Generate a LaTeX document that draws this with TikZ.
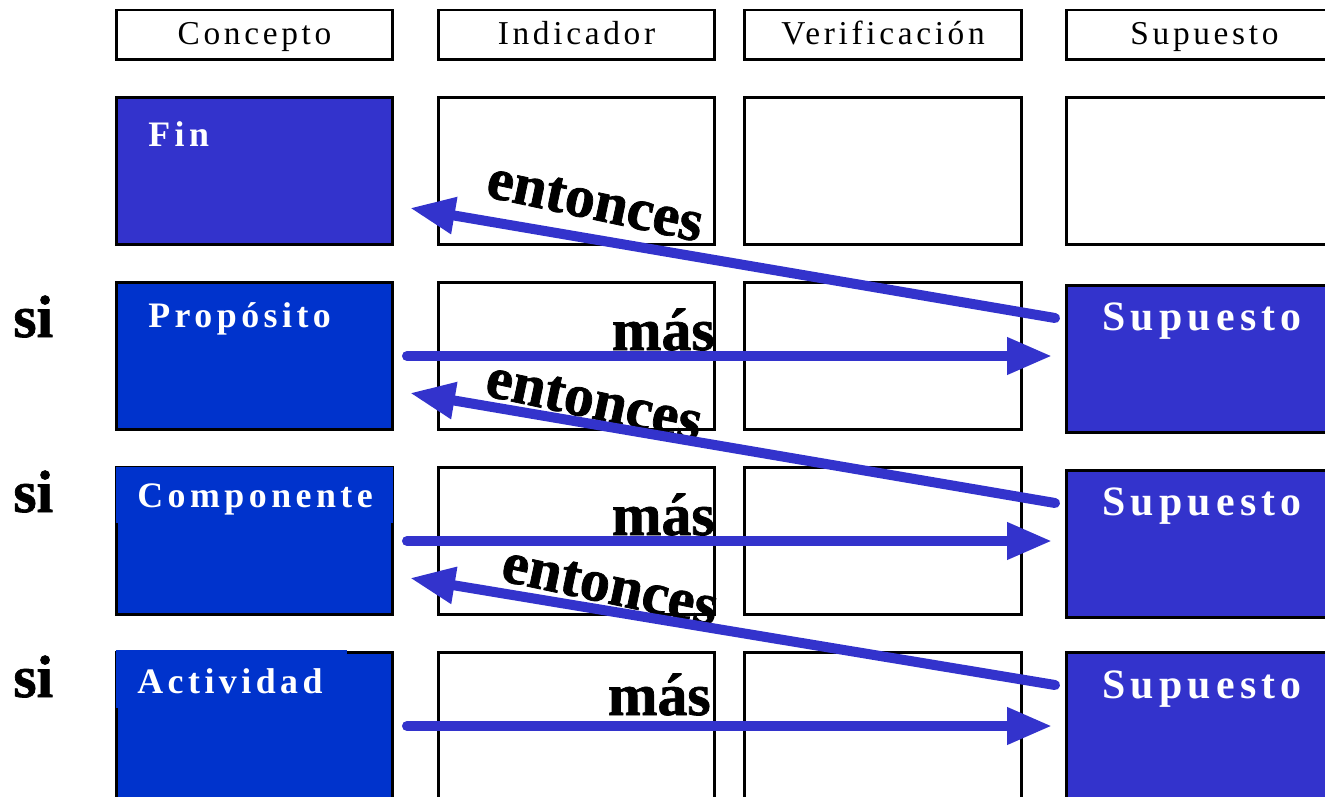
\documentclass[tikz,border=0pt]{standalone}
\usepackage{fontspec}
\setmainfont{Liberation Serif}[BoldFont={Liberation Serif Bold}]
\newfontfamily\hdrfont[LetterSpace=11]{Liberation Serif}
\newfontfamily\lblfont[LetterSpace=12.5]{Liberation Serif Bold}
\newfontfamily\bigfont[FakeBold=1.2]{Liberation Serif Bold}
\usetikzlibrary{arrows.meta,positioning}
\definecolor{finblue}{HTML}{3333CC}
\definecolor{conblue}{HTML}{0033CC}

\tikzset{
  cell/.style={draw, line width=1.7pt, minimum width=5.54cm, minimum height=2.96cm,
    inner sep=0pt, outer sep=0pt},
  head/.style={draw, line width=1.7pt, minimum width=5.54cm, minimum height=1cm,
    inner sep=0pt, outer sep=0pt, text height=14pt, text depth=3pt,
    font=\hdrfont\fontsize{19}{22}\selectfont},
  lbl/.style={text=white, anchor=north west, inner sep=0pt,
    font=\lblfont\fontsize{20.4}{24}\selectfont},
  suplbl/.style={lbl, font=\lblfont\fontsize{23.8}{28}\selectfont},
  big/.style={inner sep=0pt, font=\bigfont\fontsize{34}{40}\selectfont},
  arr/.style={draw=finblue, line width=5.7pt, line cap=round,
    -{Triangle[length=0.9cm,width=0.7cm]}},
}

\begin{document}
\begin{tikzpicture}[x=0.02cm, y=-0.02cm]
  \useasboundingbox (0,0) rectangle (1325,797);
  \clip (0,0) rectangle (1325,797);

  % column heads
  \node[head] (hcon) at (254.5,35) {Concepto};
  \node[head] (hind) at (576.5,35) {Indicador};
  \node[head] (hver) at (883,35) {Verificación};
  \node[head] (hsup) at (1204.5,35) {Supuesto};

  % empty cells
  \foreach \r/\y in {1/171,2/356,3/541,4/726}{
    \node[cell] (ind\r) at (576.5,\y) {};
    \node[cell] (ver\r) at (883,\y) {};
  }
  \node[cell] (sup1) at (1204.5,171) {};

  % concept column
  \node[cell, fill=finblue] (fin) at (254.5,171) {};
  \node[cell, fill=conblue] (prop) at (254.5,356) {};
  \node[cell, fill=conblue] (comp) at (254.5,541) {};
  \node[cell, fill=conblue] (act) at (254.5,726) {};
  \fill[conblue] (116,467) rectangle (393,523);
  \fill[conblue] (116,650) rectangle (347,708);
  \node[lbl] (lfin) at (148,121) {Fin};
  \node[lbl] (lprop) at (148,302) {Propósito};
  \node[lbl] (lcomp) at (137,483) {Componente};
  \node[lbl] (lact) at (137,668) {Actividad};

  % assumption column
  \node[cell, fill=finblue] (sup2) at (1204.5,359) {};
  \node[cell, fill=finblue] (sup3) at (1204.5,544) {};
  \node[cell, fill=finblue] (sup4) at (1204.5,726) {};
  \node[suplbl] (lsup2) at (1102,302) {Supuesto};
  \node[suplbl] (lsup3) at (1102,487) {Supuesto};
  \node[suplbl] (lsup4) at (1102,670) {Supuesto};

  % si
  \node[big, anchor=base west] (si2) at (13,337) {si};
  \node[big, anchor=base west] (si3) at (13,512) {si};
  \node[big, anchor=base west] (si4) at (13,697) {si};

  % mas / entonces
  \node[big, anchor=base east] (mas2) at (715,350) {más};
  \node[big, anchor=base east] (mas3) at (715,535) {más};
  \node[big, anchor=base east] (mas4) at (711,715) {más};
  \node[big, rotate=-12] (ent1) at (595,203) {entonces};
  \node[big, rotate=-12] (ent2) at (594,402) {entonces};
  \node[big, rotate=-12] (ent3) at (610,587) {entonces};

  % arrows
  \draw[arr, shorten >=0.28cm] ([xshift=0.28cm]prop.east) -- (prop.east -| sup2.west);
  \draw[arr, shorten >=0.28cm] ([xshift=0.28cm]comp.east) -- (comp.east -| sup3.west);
  \draw[arr, shorten >=0.28cm] ([xshift=0.28cm]act.east) -- (act.east -| sup4.west);
  \draw[arr] ([xshift=-0.22cm, yshift=-0.66cm]sup2.north west) -- ([xshift=0.34cm, yshift=0.74cm]fin.south east);
  \draw[arr] ([xshift=-0.22cm, yshift=-0.66cm]sup3.north west) -- ([xshift=0.34cm, yshift=0.74cm]prop.south east);
  \draw[arr] ([xshift=-0.22cm, yshift=-0.66cm]sup4.north west) -- ([xshift=0.34cm, yshift=0.74cm]comp.south east);
\end{tikzpicture}
\end{document}
